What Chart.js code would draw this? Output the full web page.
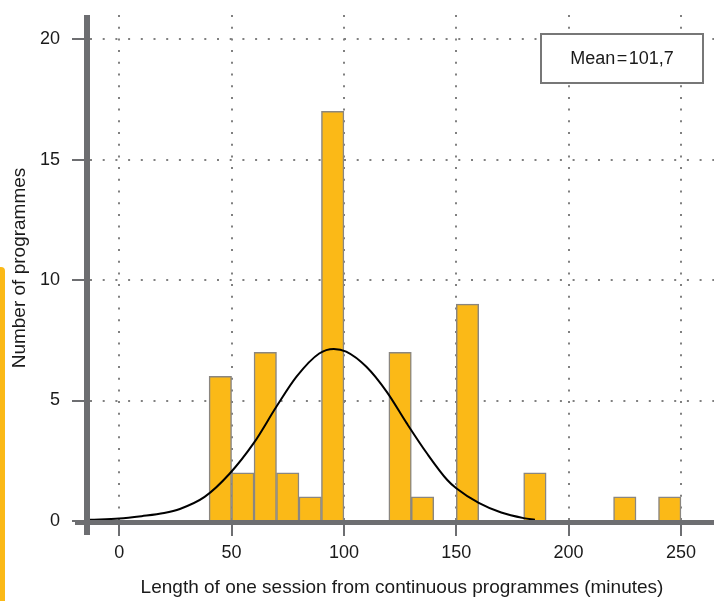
<!DOCTYPE html>
<html>
<head>
<meta charset="utf-8">
<title>Length of one session from continuous programmes</title>
<script src="https://cdn.jsdelivr.net/npm/chart.js@4.4.1/dist/chart.umd.min.js"></script>
<style>
    html, body { margin: 0; padding: 0; background: #fff; }
    #wrap { position: relative; width: 714px; height: 601px; }
    #strip {
        position: absolute; left: 0; top: 267px; width: 5px; height: 334px;
        background: #fbb917; border-top-right-radius: 4px;
    }
</style>
</head>
<body>
<div id="wrap">
    <canvas id="histChart" width="714" height="601"></canvas>
    <div id="strip"></div>
</div>
<script>
// Histogram bins (centre of each 10-minute bin) and counts
const binCentres = [45, 55, 65, 75, 85, 95, 125, 135, 155, 185, 225, 245];
const binCounts = [6, 2, 7, 2, 1, 17, 7, 1, 9, 2, 1, 1];

// Fitted normal curve
const curveX = [-13, 0, 10, 20, 27, 38, 49, 60, 70, 79, 89, 95.5, 101, 110, 119, 128, 137, 146, 150, 160, 170, 180, 185];
const curveY = [0.05, 0.1, 0.2, 0.33, 0.5, 1.0, 1.95, 3.25, 4.75, 6.0, 6.95, 7.14, 7.03, 6.4, 5.37, 4.05, 2.8, 1.7, 1.36, 0.75, 0.35, 0.12, 0.05];

// Axis ticks
const xTicks = [0, 50, 100, 150, 200, 250];
const yTicks = [0, 5, 10, 15, 20];

const xTitle = 'Length of one session from continuous programmes (minutes)';
const yTitle = 'Number of programmes';
const meanLabel = 'Mean\u200A=\u200A101,7';

const AXIS_COLOUR = '#6d6e71';
const BAR_COLOUR = '#fbb917';
const TEXT_COLOUR = '#1a1a1a';
const FONT = 'Liberation Sans, Arial, Helvetica, sans-serif';

// Draws the thick offset axes, tick marks and the mean box
const framePlugin = {
    id: 'frame',
    afterDatasetsDraw(chart) {
        const { ctx, chartArea, scales } = chart;
        ctx.save();

        ctx.fillStyle = AXIS_COLOUR;
        ctx.fillRect(chartArea.left - 6, chartArea.top, 6, chartArea.bottom + 14 - chartArea.top);
        ctx.fillRect(chartArea.left - 15, chartArea.bottom - 1, chartArea.right - chartArea.left + 15, 5);

        ctx.strokeStyle = AXIS_COLOUR;
        ctx.lineWidth = 2;
        yTicks.forEach(v => {
            const y = Math.round(scales.y.getPixelForValue(v));
            ctx.beginPath();
            ctx.moveTo(chartArea.left - 18, y);
            ctx.lineTo(chartArea.left - 6, y);
            ctx.stroke();
        });
        xTicks.forEach(v => {
            const x = Math.round(scales.x.getPixelForValue(v));
            ctx.beginPath();
            ctx.moveTo(x, chartArea.bottom + 4);
            ctx.lineTo(x, chartArea.bottom + 15);
            ctx.stroke();
        });

        // Mean box
        const bx = chartArea.right - 173, by = chartArea.top + 19, bw = 162, bh = 49;
        ctx.fillStyle = '#fff';
        ctx.fillRect(bx, by, bw, bh);
        ctx.strokeStyle = '#777';
        ctx.lineWidth = 2;
        ctx.strokeRect(bx, by, bw, bh);
        ctx.fillStyle = TEXT_COLOUR;
        ctx.font = '18px ' + FONT;
        ctx.textAlign = 'center';
        ctx.textBaseline = 'middle';
        ctx.fillText(meanLabel, bx + bw / 2, by + bh / 2 + 1);

        ctx.restore();
    }
};

function init() {
    const ctx = document.getElementById('histChart').getContext('2d');

    new Chart(ctx, {
        type: 'bar',
        data: {
            datasets: [
                {
                    type: 'line',
                    label: 'Normal',
                    data: curveX.map((x, i) => ({ x: x, y: curveY[i] })),
                    borderColor: '#000',
                    borderWidth: 2,
                    pointRadius: 0,
                    cubicInterpolationMode: 'monotone',
                    fill: false,
                    order: 0
                },
                {
                    type: 'bar',
                    label: 'Programmes',
                    data: binCentres.map((x, i) => ({ x: x, y: binCounts[i] })),
                    backgroundColor: BAR_COLOUR,
                    borderColor: '#8a8680',
                    borderWidth: 1.5,
                    barPercentage: 1,
                    categoryPercentage: 1,
                    order: 1
                }
            ]
        },
        options: {
            responsive: false,
            animation: false,
            layout: { padding: { top: 15, left: 0, right: 0, bottom: 0 } },
            plugins: {
                legend: { display: false },
                tooltip: { enabled: false }
            },
            scales: {
                x: {
                    type: 'linear',
                    offset: false,
                    min: -13,
                    max: 264.7,
                    afterFit: scale => {
                        scale.height = 80;
                        scale.paddingLeft = 0;
                        scale.paddingRight = 0;
                    },
                    afterBuildTicks: scale => { scale.ticks = xTicks.map(v => ({ value: v })); },
                    grid: {
                        color: '#808080',
                        lineWidth: 2,
                        drawTicks: false,
                        offset: false
                    },
                    border: { display: false, dash: [2, 9.7] },
                    ticks: {
                        padding: 21,
                        color: TEXT_COLOUR,
                        font: { family: FONT, size: 18 },
                        maxRotation: 0
                    },
                    title: {
                        display: true,
                        text: xTitle,
                        color: TEXT_COLOUR,
                        font: { family: FONT, size: 19 },
                        padding: { top: 0, bottom: 2 }
                    }
                },
                y: {
                    min: 0,
                    max: 21,
                    afterFit: scale => {
                        scale.width = 90;
                        scale.paddingTop = 0;
                        scale.paddingBottom = 0;
                    },
                    afterBuildTicks: scale => { scale.ticks = yTicks.map(v => ({ value: v })); },
                    grid: {
                        color: c => (c.tick && c.tick.value === 0 ? 'rgba(0,0,0,0)' : '#808080'),
                        lineWidth: 2,
                        drawTicks: false
                    },
                    border: { display: false, dash: [2, 10.7] },
                    ticks: {
                        padding: 30,
                        color: TEXT_COLOUR,
                        font: { family: FONT, size: 18 }
                    },
                    title: {
                        display: true,
                        text: yTitle,
                        color: TEXT_COLOUR,
                        font: { family: FONT, size: 19 },
                        padding: { top: 8, bottom: 0 }
                    }
                }
            }
        },
        plugins: [framePlugin]
    });
}

document.addEventListener('DOMContentLoaded', init);
</script>
</body>
</html>
